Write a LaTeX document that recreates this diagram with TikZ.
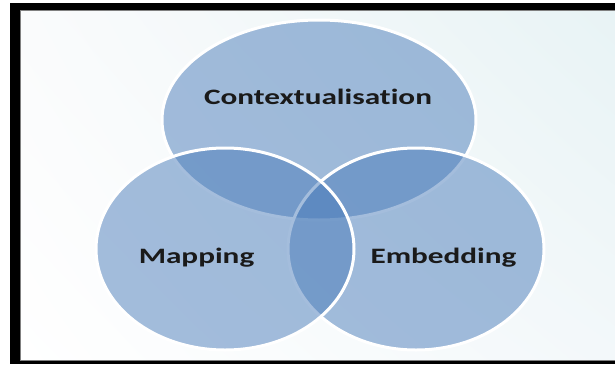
\documentclass[tikz,border=0pt]{standalone}
\usepackage{fontspec}
\usetikzlibrary{shadings}
\setmainfont{Carlito}[Ligatures=NoCommon]
\definecolor{vennblue}{HTML}{4A7CBA}
\definecolor{bgur}{HTML}{E8F3F5}
\definecolor{bglr}{HTML}{F3F8FA}
\definecolor{bgul}{HTML}{FAFBFC}
\definecolor{txt}{HTML}{1A1A1A}
\newcommand{\wide}[1]{\scalebox{1.42}[1]{#1}}
\begin{document}
\begin{tikzpicture}[x=1pt,y=-1pt,
  venn/.style={fill=vennblue,fill opacity=0.5,draw=white,line width=3pt},
  lbl/.style={font=\bfseries\fontsize{22}{26}\selectfont,text=txt,inner sep=0pt,anchor=base}]
\useasboundingbox (0,0) rectangle (615,364);
\fill[white] (0,0) rectangle (615,364);
\shade[upper left=bgul,lower left=white,upper right=bgur,lower right=bglr] (20,10) rectangle (615,361);
% frame
\fill[black] (10,3) rectangle (615,10);
\fill[black] (10,3) rectangle (20,364);
\fill[black] (10,360.5) rectangle (615,364);
\draw[gray,line width=0.6pt] (20,10.3) -- (615,10.3);
\draw[gray,line width=0.6pt] (20.3,10) -- (20.3,360.5);
\draw[gray,line width=0.6pt] (20,360.2) -- (615,360.2);
% ellipses
\draw[venn] (319,120) ellipse [x radius=157pt, y radius=100pt];
\draw[venn] (416,249) ellipse [x radius=128pt, y radius=101pt];
\draw[venn] (225,249) ellipse [x radius=129pt, y radius=101pt];
% labels
\node[lbl] (ctx) at (318,104) {\wide{Contextualisation}};
\node[lbl] (map) at (196.5,263) {\wide{Mapping}};
\node[lbl] (emb) at (443.5,263) {\wide{Embedding}};
\end{tikzpicture}
\end{document}
